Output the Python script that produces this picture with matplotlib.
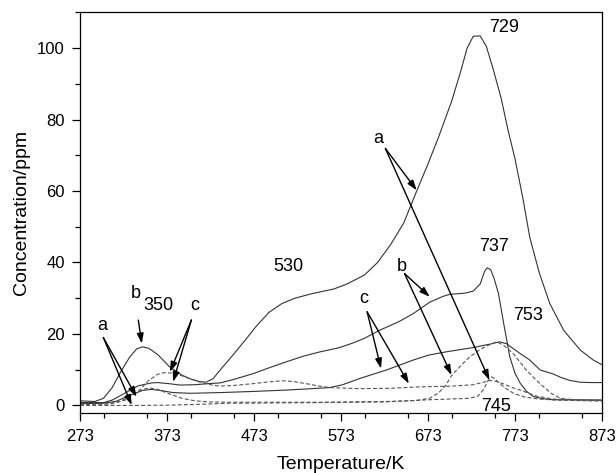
import matplotlib
matplotlib.use("Agg")
import matplotlib.pyplot as plt
from matplotlib.ticker import MultipleLocator, FixedLocator

plt.rcParams['font.family'] = ['Liberation Sans', 'DejaVu Sans']

# ---- data ----
# solid curve a (peaks ~350 side bump and 729)
sa_T = [273, 290, 300, 310, 320, 330, 338, 345, 352, 362, 376, 390, 400, 410, 418, 426, 434, 445,
        463, 475, 490, 505, 520, 540, 565, 580, 600, 615, 630, 645, 660, 672, 685, 700, 710, 718,
        725, 733, 740, 748, 757, 765, 773, 782, 790, 801, 813, 829, 848, 863, 873]
sa_y = [1.3, 1.1, 2.0, 5.0, 9.5, 13.5, 15.8, 16.4, 16.0, 14.3, 10.8, 8.5, 7.4, 6.7, 6.5, 7.5, 9.9, 13.0,
        18.3, 22.0, 26.0, 28.5, 30.0, 31.3, 32.6, 34.0, 36.5, 40.0, 45.0, 51.0, 60.0, 67.0, 75.0, 85.0, 93.0, 100.0,
        103.3, 103.4, 100.5, 94.0, 86.0, 77.0, 69.0, 58.0, 47.0, 37.0, 28.5, 21.0, 15.5, 12.7, 11.4]

# solid curve b (peak 737)
sb_T = [273, 300, 310, 325, 340, 355, 362, 375, 388, 405, 420, 434, 450, 472, 490, 510, 530, 549, 570,
        587, 600, 618, 640, 656, 675, 690, 698, 715, 725, 733, 738, 741, 745, 749, 754, 760, 767, 773,
        779, 786, 794, 805, 817, 873]
sb_y = [0.8, 0.8, 1.5, 3.5, 5.5, 6.3, 6.4, 6.1, 5.7, 5.8, 6.1, 6.3, 7.3, 8.9, 10.5, 12.2, 13.8, 15.0, 16.1,
        17.5, 18.8, 21.1, 23.5, 25.7, 28.9, 30.5, 31.1, 31.4, 32.0, 34.0, 37.5, 38.5, 38.0, 35.5, 31.3, 22.9, 13.6, 9.0,
        6.2, 4.0, 2.5, 1.9, 1.6, 1.5]

# solid curve c (peak 753)
sc_T = [273, 300, 315, 330, 345, 355, 365, 380, 400, 434, 470, 510, 540, 560, 575, 594, 625, 656, 674,
        694, 725, 745, 755, 763, 779, 790, 802, 817, 825, 836, 848, 860, 873]
sc_y = [0.5, 0.6, 1.2, 2.8, 4.2, 4.5, 4.2, 3.6, 3.4, 3.6, 3.9, 4.3, 4.7, 5.0, 5.8, 7.5, 9.9, 12.7, 14.1,
        15.0, 16.2, 17.2, 17.8, 17.3, 14.5, 12.7, 9.9, 8.8, 7.9, 7.0, 6.5, 6.4, 6.4]

# dashed curve a (peak 745)
da_T = [273, 340, 380, 420, 440, 550, 625, 674, 700, 720, 730, 737, 742, 746, 750, 756, 764, 772, 785,
        800, 820, 873]
da_y = [0.0, 0.0, 0.1, 0.4, 0.6, 0.8, 1.0, 1.6, 1.8, 2.0, 2.5, 4.5, 7.0, 8.0, 7.4, 6.0, 4.5, 3.3, 2.3,
        1.8, 1.5, 1.2]

# dashed curve b (peak ~753)
db_T = [273, 305, 320, 335, 345, 353, 362, 375, 390, 405, 420, 445, 550, 625, 660, 675, 685, 693, 700,
        710, 721, 732, 740, 752, 760, 771, 786, 796, 806, 815, 825, 840, 873]
db_y = [0.3, 0.4, 1.2, 3.2, 4.5, 4.9, 4.5, 3.3, 2.0, 1.3, 1.0, 0.9, 0.9, 1.1, 1.4, 2.0, 3.5, 5.5, 8.3,
        11.0, 13.6, 15.5, 16.6, 17.8, 16.8, 14.5, 9.9, 7.4, 5.2, 3.3, 2.0, 1.6, 1.4]

# dashed curve c
dc_T = [273, 310, 325, 340, 352, 362, 370, 380, 390, 400, 410, 420, 434, 450, 472, 490, 505, 518, 533,
        548, 560, 594, 630, 663, 700, 725, 737, 745, 752, 760, 770, 779, 790, 798, 817, 840, 873]
dc_y = [0.3, 0.5, 1.5, 4.0, 7.0, 8.7, 9.2, 9.0, 8.3, 7.4, 6.6, 5.9, 5.4, 5.6, 6.1, 6.6, 6.9, 6.7, 6.1,
        5.4, 5.0, 4.7, 4.8, 5.2, 5.4, 5.8, 6.5, 7.0, 6.7, 6.0, 5.0, 4.3, 3.3, 2.6, 1.8, 1.6, 1.5]

x_ticks = [273, 373, 473, 573, 673, 773, 873]
y_ticks = [0, 20, 40, 60, 80, 100]

# ---- figure ----
fig = plt.figure(figsize=(6.16, 4.73), dpi=100)
ax = fig.add_axes([0.1299, 0.1262, 0.9773 - 0.1299, 0.974 - 0.1262])

solid_kw = dict(color='#333333', lw=0.8, ls='-')
dash_kw = dict(color='#555555', lw=0.8, ls=(0, (3.5, 2.0)))
ax.plot(sa_T, sa_y, **solid_kw)
ax.plot(sb_T, sb_y, **solid_kw)
ax.plot(sc_T, sc_y, **solid_kw)
ax.plot(da_T, da_y, **dash_kw)
ax.plot(db_T, db_y, **dash_kw)
ax.plot(dc_T, dc_y, **dash_kw)

ax.set_xlim(273, 873)
ax.set_ylim(-2.2, 110)
ax.xaxis.set_major_locator(FixedLocator(x_ticks))
ax.xaxis.set_minor_locator(MultipleLocator(50))
ax.yaxis.set_major_locator(FixedLocator(y_ticks))
ax.yaxis.set_minor_locator(MultipleLocator(10))
ax.set_xticklabels([str(t) for t in x_ticks])
ax.set_yticklabels([str(t) for t in y_ticks])
ax.tick_params(which='major', direction='out', length=6, width=0.9, labelsize=12, pad=5)
ax.tick_params(which='minor', direction='out', length=3.5, width=0.9)
ax.tick_params(top=False, right=False)
for s in ax.spines.values():
    s.set_linewidth(0.9)

ax.set_xlabel('Temperature/K', fontsize=14, labelpad=9)
ax.set_ylabel('Concentration/ppm', fontsize=14, labelpad=5)

# ---- annotations ----
tkw = dict(fontsize=13, ha='center', va='center', color='black')
ax.text(760, 105.7, '729', **tkw)
ax.text(513, 38.8, '530', **tkw)
ax.text(749, 44.4, '737', **tkw)
ax.text(787.5, 25.3, '753', **tkw)
ax.text(751, -0.3, '745', **tkw)
ax.text(363, 28.0, '350', **tkw)
ax.text(337, 31.3, 'b', **tkw)
ax.text(298, 22.5, 'a', **tkw)
ax.text(405, 28.0, 'c', **tkw)
ax.text(616, 74.7, 'a', **tkw)
ax.text(642.6, 38.8, 'b', **tkw)
ax.text(599.6, 29.9, 'c', **tkw)

akw = dict(arrowstyle='-|>,head_length=0.6,head_width=0.2', lw=1.0, color='black',
           shrinkA=0, shrinkB=0)
arrows = [
    ((299.8, 19.0), (338, 2.4)),
    ((299.8, 19.0), (332.4, 0.1)),
    ((340, 23.9), (344, 17.3)),
    ((401, 23.9), (376.4, 9.4)),
    ((401, 23.9), (380, 6.6)),
    ((624, 71.9), (660, 60.2)),
    ((624, 71.9), (743.6, 7.1)),
    ((646, 36.9), (675, 30.4)),
    ((646, 36.9), (700, 8.5)),
    ((603, 26.2), (619, 10.3)),
    ((603, 26.2), (651, 6.1)),
]
for start, end in arrows:
    ax.annotate('', xy=end, xytext=start, arrowprops=akw)

fig.savefig('out.png', dpi=100)
